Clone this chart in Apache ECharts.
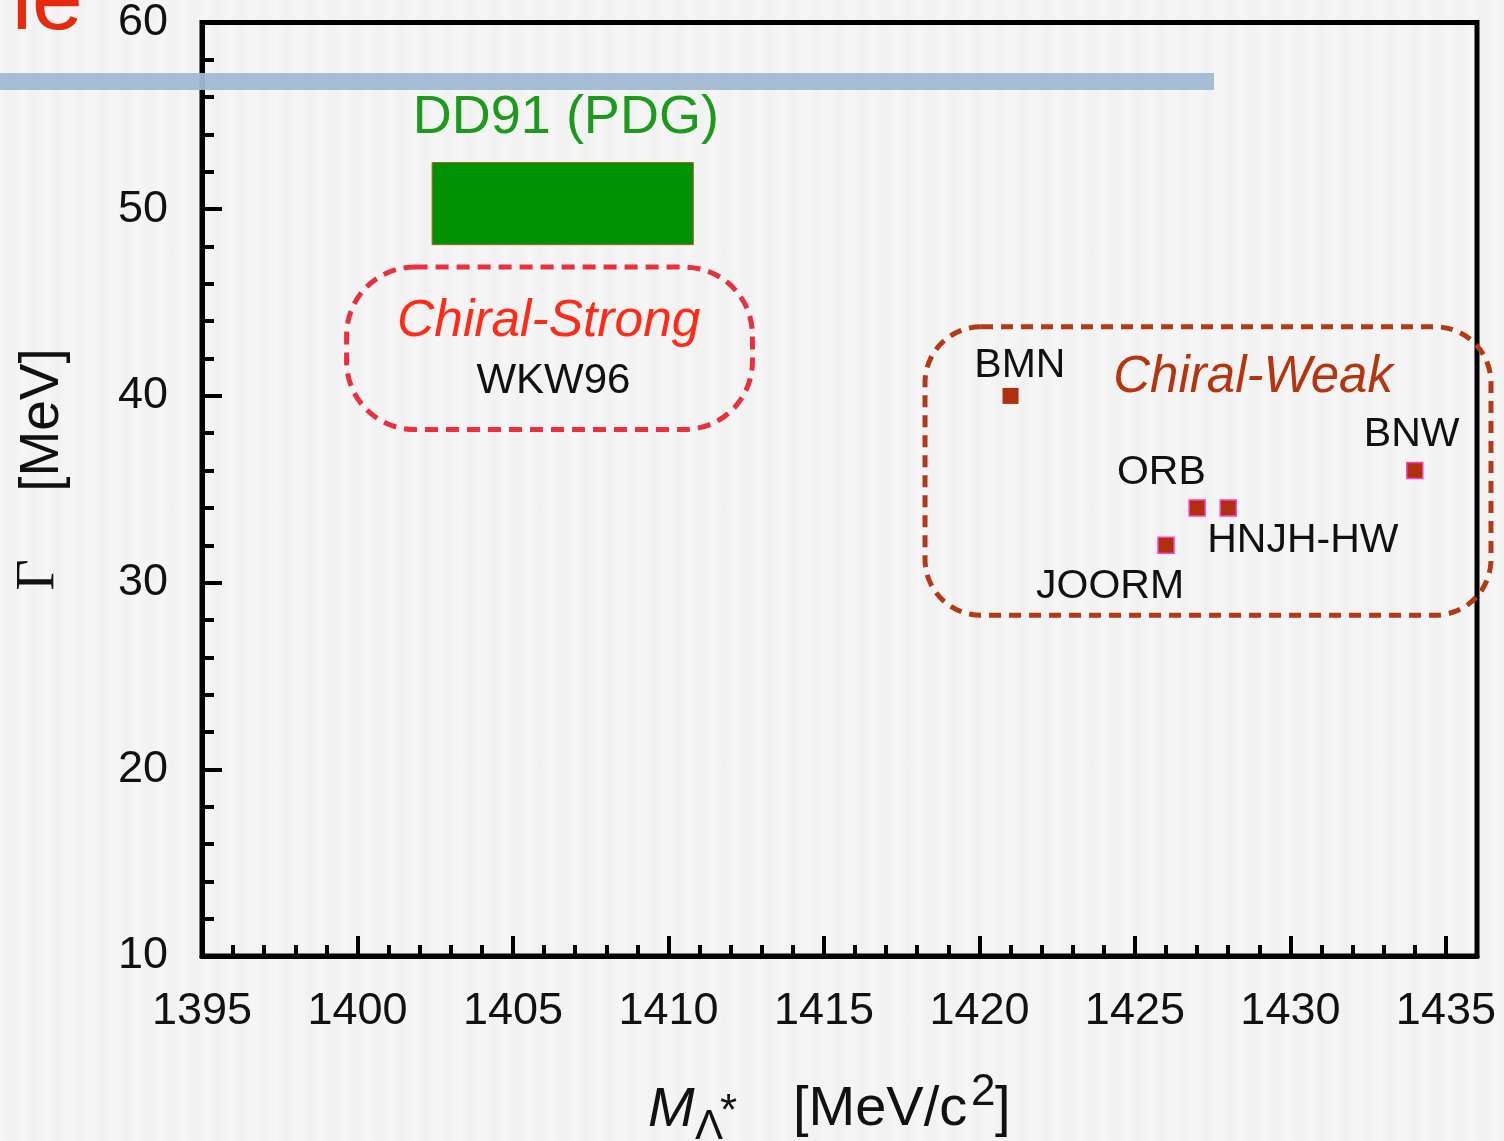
<!DOCTYPE html>
<html>
<head>
<meta charset="utf-8">
<script src="https://cdn.jsdelivr.net/npm/echarts@6/dist/echarts.min.js"></script>
<style>
html,body{margin:0;padding:0;background:#f4f4f4;overflow:hidden}
#c{width:1504px;height:1141px;background:repeating-linear-gradient(90deg,#f6f6f6 0px,#f1f1f1 11px,#f6f6f6 23px)}
</style>
</head>
<body>
<div id="c"></div>
<script>
// ---------- data ----------
const xTickLabels = ['1395','1400','1405','1410','1415','1420','1425','1430','1435'];
const yTickLabels = ['10','20','30','40','50','60'];

const modelNames = ['BMN','JOORM','ORB','HNJH-HW','BNW'];
const modelMass  = [1421, 1426, 1427, 1428, 1434];
const modelWidth = [40, 32, 34, 34, 36];
const modelLabelMass  = [1421.3, 1424.2, 1425.85, 1430.4, 1433.9];
const modelLabelWidth = [41.6, 29.8, 35.9, 32.25, 37.9];

// [mass low, mass high, width low, width high]
const pdgBox    = [1402.4, 1410.8, 48.1, 52.5];
const strongBox = [1399.65, 1412.7, 38.2, 46.9];
const weakBox   = [1418.25, 1436.45, 28.25, 43.7];

const noteTexts = ['DD91 (PDG)', 'Chiral-Strong', 'WKW96', 'Chiral-Weak'];
const noteMass  = [1406.7, 1406.15, 1406.3, 1428.8];
const noteWidth = [54.9, 44.0, 40.75, 40.95];

// ---------- styles ----------
const SANS = '"Liberation Sans", Arial, Helvetica, sans-serif';
const SERIF = '"Liberation Serif", "DejaVu Serif", "Times New Roman", serif';
const noteStyles = [
  {fontSize: 54, fontStyle: 'normal', fill: '#1c9a1c'},
  {fontSize: 51.5, fontStyle: 'italic', fill: '#ff2a18'},
  {fontSize: 42, fontStyle: 'normal', fill: '#111111'},
  {fontSize: 51, fontStyle: 'italic', fill: '#b5350f'}
];

function boxRender(style, r) {
  return function (params, api) {
    const a = api.coord([api.value(0), api.value(3)]);
    const b = api.coord([api.value(1), api.value(2)]);
    return {
      type: 'rect',
      shape: {x: a[0], y: a[1], width: b[0] - a[0], height: b[1] - a[1], r: r},
      style: style
    };
  };
}

const chart = echarts.init(document.getElementById('c'), null, {renderer: 'canvas'});

const option = {
  backgroundColor: 'transparent',
  animation: false,
  grid: {
    left: 202, right: 27, top: 19.5, bottom: 185,
    show: true, borderColor: '#000', borderWidth: 5, backgroundColor: 'transparent'
  },
  xAxis: [
    {
      type: 'value', position: 'bottom', min: 1395, max: 1436, interval: 5,
      axisLine: {show: true, onZero: false, lineStyle: {color: '#000', width: 5}},
      axisTick: {show: true, inside: true, length: 20, lineStyle: {color: '#000', width: 4}},
      axisLabel: {
        margin: 33, fontSize: 45, color: '#111', fontFamily: SANS,
        showMaxLabel: true,
        formatter: function (v) { const s = String(v); return xTickLabels.indexOf(s) >= 0 ? s : ''; }
      },
      splitLine: {show: false}
    },
    {
      type: 'value', position: 'bottom', min: 1395, max: 1436, interval: 1,
      axisLine: {show: false, onZero: false},
      axisTick: {show: true, inside: true, length: 11, lineStyle: {color: '#000', width: 4}},
      axisLabel: {show: false},
      splitLine: {show: false}
    }
  ],
  yAxis: {
    type: 'value', min: 10, max: 60, interval: 10,
    axisLine: {show: true, onZero: false, lineStyle: {color: '#000', width: 5}},
    axisTick: {show: true, inside: true, length: 20, lineStyle: {color: '#000', width: 4}},
    minorTick: {show: true, splitNumber: 5, length: 12, lineStyle: {color: '#000', width: 4}},
    axisLabel: {
      margin: 34, fontSize: 45, color: '#111', fontFamily: SANS,
      formatter: function (v) { const s = String(v); return yTickLabels.indexOf(s) >= 0 ? s : ''; }
    },
    splitLine: {show: false}
  },
  series: [
    {
      type: 'custom', name: 'DD91 (PDG)', xAxisIndex: 0, z: 3, clip: false,
      data: [pdgBox],
      renderItem: boxRender({fill: '#009100', stroke: '#b0602a', lineWidth: 1}, 0)
    },
    {
      type: 'custom', name: 'Chiral-Strong', xAxisIndex: 0, z: 3, clip: false,
      data: [strongBox],
      renderItem: boxRender({fill: 'none', stroke: '#e8303e', lineWidth: 5, lineDash: [13, 8]}, 68)
    },
    {
      type: 'custom', name: 'Chiral-Weak', xAxisIndex: 0, z: 3, clip: false,
      data: [weakBox],
      renderItem: boxRender({fill: 'none', stroke: '#b33a14', lineWidth: 5, lineDash: [12, 8]}, 56)
    },
    {
      type: 'custom', name: 'notes', xAxisIndex: 0, z: 4, clip: false,
      data: noteTexts.map(function (t, i) { return [noteMass[i], noteWidth[i]]; }),
      renderItem: function (params, api) {
        const p = api.coord([api.value(0), api.value(1)]);
        const st = noteStyles[params.dataIndex];
        return {
          type: 'text', x: p[0], y: p[1],
          style: {
            text: noteTexts[params.dataIndex], fontSize: st.fontSize, fontStyle: st.fontStyle,
            fontFamily: SANS, fill: st.fill, align: 'center', verticalAlign: 'middle'
          }
        };
      }
    },
    {
      type: 'custom', name: 'model labels', xAxisIndex: 0, z: 4, clip: false,
      data: modelNames.map(function (t, i) { return [modelLabelMass[i], modelLabelWidth[i]]; }),
      renderItem: function (params, api) {
        const p = api.coord([api.value(0), api.value(1)]);
        return {
          type: 'text', x: p[0], y: p[1],
          style: {
            text: modelNames[params.dataIndex], fontSize: 41, fontFamily: SANS,
            fill: '#111', align: 'center', verticalAlign: 'middle'
          }
        };
      }
    },
    {
      type: 'scatter', name: 'models', xAxisIndex: 0, z: 5,
      symbol: 'rect', symbolSize: 16,
      data: modelMass.map(function (m, i) {
        return {
          name: modelNames[i], value: [m, modelWidth[i]],
          itemStyle: i === 0 ? {color: '#b0300e', borderWidth: 0, opacity: 1}
                             : {color: '#b0300e', borderColor: '#ff3fc8', borderWidth: 1.5, opacity: 1}
        };
      })
    }
  ],
  graphic: [
    {type: 'text', x: 83, y: 4, z: 100,
     style: {text: 'ne', fontSize: 92, fontFamily: SANS, fill: '#e62a10', align: 'right', verticalAlign: 'middle'}},
    {type: 'rect', x: 0, y: 73, z: 100, shape: {width: 1214, height: 17},
     style: {fill: '#a2b9d4', opacity: 0.95}},
    // y axis name
    {type: 'text', x: 39, y: 575, rotation: Math.PI / 2, z: 100,
     style: {text: 'Γ', fontSize: 54, fontFamily: SERIF, fill: '#111', align: 'center', verticalAlign: 'middle'}},
    {type: 'text', x: 43, y: 420, rotation: Math.PI / 2, z: 100,
     style: {text: '[MeV]', fontSize: 55, fontFamily: SANS, fill: '#111', align: 'center', verticalAlign: 'middle'}},
    // x axis name
    {type: 'text', x: 648, y: 1110, z: 100,
     style: {text: 'M', fontSize: 56, fontStyle: 'italic', fontFamily: SANS, fill: '#111', align: 'left', verticalAlign: 'middle'}},
    {type: 'text', x: 695, y: 1127, z: 100,
     style: {text: 'Λ', fontSize: 42, fontFamily: SANS, fill: '#111', align: 'left', verticalAlign: 'middle'}},
    {type: 'text', x: 720, y: 1113, z: 100,
     style: {text: '*', fontSize: 44, fontFamily: SANS, fill: '#111', align: 'left', verticalAlign: 'middle'}},
    {type: 'text', x: 793, y: 1110, z: 100,
     style: {text: '[MeV/c', fontSize: 56, fontFamily: SANS, fill: '#111', align: 'left', verticalAlign: 'middle'}},
    {type: 'text', x: 971, y: 1093, z: 100,
     style: {text: '2', fontSize: 44, fontFamily: SANS, fill: '#111', align: 'left', verticalAlign: 'middle'}},
    {type: 'text', x: 995, y: 1110, z: 100,
     style: {text: ']', fontSize: 56, fontFamily: SANS, fill: '#111', align: 'left', verticalAlign: 'middle'}}
  ]
};
chart.setOption(option);
</script>
</body>
</html>
